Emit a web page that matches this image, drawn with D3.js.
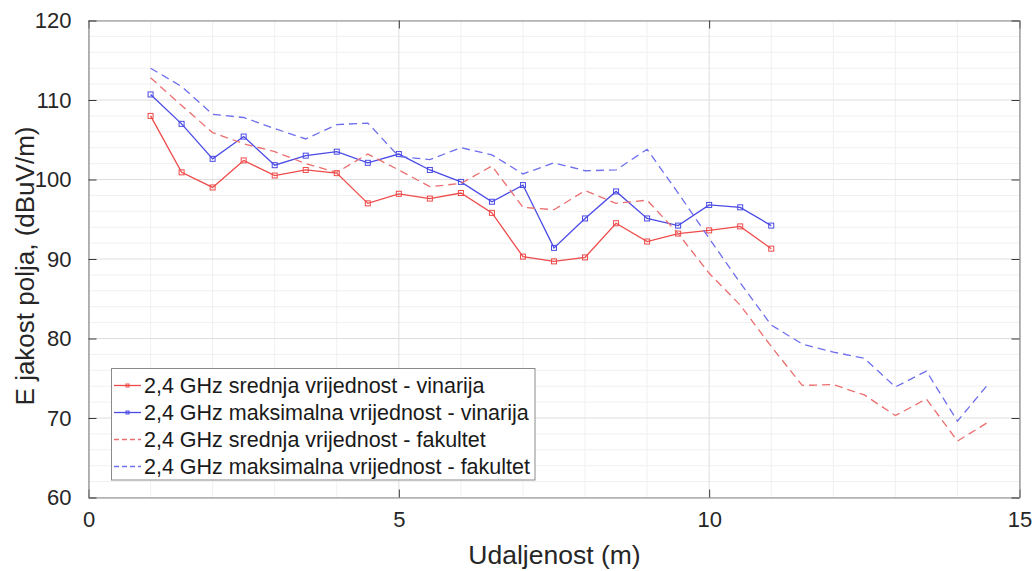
<!DOCTYPE html>
<html>
<head>
<meta charset="utf-8">
<script src="https://cdn.jsdelivr.net/npm/d3@7"></script>
<style>
  html, body { margin: 0; padding: 0; background: #ffffff; }
  svg { display: block; font-family: "Liberation Sans", Arial, sans-serif; }
</style>
</head>
<body>
<svg id="chart" width="1036" height="571"></svg>
<script>
// ---- data ----
const xVinarija = [1, 1.5, 2, 2.5, 3, 3.5, 4, 4.5, 5, 5.5, 6, 6.5, 7, 7.5, 8, 8.5, 9, 9.5, 10, 10.5, 11];
const srednjaVinarija = [108.0, 100.9, 99.0, 102.4, 100.5, 101.2, 100.8, 97.0, 98.2, 97.6, 98.3, 95.8, 90.3, 89.7, 90.2, 94.5, 92.2, 93.2, 93.6, 94.1, 91.3];
const maksVinarija = [110.7, 107.0, 102.6, 105.4, 101.8, 103.0, 103.5, 102.1, 103.2, 101.2, 99.7, 97.2, 99.3, 91.4, 95.1, 98.5, 95.1, 94.2, 96.8, 96.5, 94.2];
const xFakultet = [1, 1.5, 2, 2.5, 3, 3.5, 4, 4.5, 5, 5.5, 6, 6.5, 7, 7.5, 8, 8.5, 9, 9.5, 10, 10.5, 11, 11.5, 12, 12.5, 13, 13.5, 14, 14.5];
const srednjaFakultet = [112.8, 109.3, 105.9, 104.5, 103.5, 102.0, 100.9, 103.2, 101.2, 99.1, 99.5, 101.7, 96.5, 96.2, 98.6, 97.0, 97.4, 93.2, 88.2, 84.2, 79.0, 74.1, 74.2, 72.9, 70.3, 72.4, 67.1, 69.5];
const maksFakultet = [114.0, 111.7, 108.2, 107.8, 106.4, 105.1, 106.9, 107.1, 102.9, 102.5, 104.0, 103.1, 100.7, 102.1, 101.1, 101.2, 103.8, 98.3, 92.6, 87.0, 81.7, 79.3, 78.3, 77.5, 73.9, 75.9, 69.6, 74.3];
const xTicks = [0, 5, 10, 15];
const yTicks = [60, 70, 80, 90, 100, 110, 120];
const xMinorTicks = [1, 2, 3, 4, 6, 7, 8, 9, 11, 12, 13, 14];
const yMinorTicks = [62, 64, 66, 68, 72, 74, 76, 78, 82, 84, 86, 88, 92, 94, 96, 98, 102, 104, 106, 108, 112, 114, 116, 118];
const seriesNames = [
  "2,4 GHz srednja vrijednost - vinarija",
  "2,4 GHz maksimalna vrijednost - vinarija",
  "2,4 GHz srednja vrijednost - fakultet",
  "2,4 GHz maksimalna vrijednost - fakultet"
];
const xLabel = "Udaljenost (m)";
const yLabel = "E jakost polja, (dBuV/m)";

// ---- layout ----
const L = 88.5, R = 1019.5, T = 20.5, B = 497.5;
const RED = "#ef4a4a", BLUE = "#4a4ae6";
const RED_D = "#ec6f6f", BLUE_D = "#6f6fee";

const svg = d3.select("#chart");
const x = d3.scaleLinear().domain([0, 15]).range([L, R]);
const y = d3.scaleLinear().domain([60, 120]).range([B, T]);

// minor grid
const g = svg.append("g");
g.selectAll(".vmin").data(xMinorTicks).enter().append("line")
  .attr("x1", d => x(d)).attr("x2", d => x(d)).attr("y1", T).attr("y2", B)
  .attr("stroke", "#f0f0f0").attr("stroke-width", 1);
g.selectAll(".hmin").data(yMinorTicks).enter().append("line")
  .attr("y1", d => y(d)).attr("y2", d => y(d)).attr("x1", L).attr("x2", R)
  .attr("stroke", "#f0f0f0").attr("stroke-width", 1);
// major grid
g.selectAll(".vmaj").data(xTicks).enter().append("line")
  .attr("x1", d => x(d)).attr("x2", d => x(d)).attr("y1", T).attr("y2", B)
  .attr("stroke", "#dedede").attr("stroke-width", 1);
g.selectAll(".hmaj").data(yTicks).enter().append("line")
  .attr("y1", d => y(d)).attr("y2", d => y(d)).attr("x1", L).attr("x2", R)
  .attr("stroke", "#dedede").attr("stroke-width", 1);

// axes (ticks inward on all sides)
const tickLen = 8;
const axB = svg.append("g").attr("transform", `translate(0,${B})`)
  .call(d3.axisBottom(x).tickValues(xTicks).tickSizeInner(-tickLen).tickSizeOuter(0).tickPadding(14));
const axT = svg.append("g").attr("transform", `translate(0,${T})`)
  .call(d3.axisTop(x).tickValues(xTicks).tickSizeInner(-tickLen).tickSizeOuter(0).tickFormat(""));
const axL = svg.append("g").attr("transform", `translate(${L},0)`)
  .call(d3.axisLeft(y).tickValues(yTicks).tickSizeInner(-tickLen).tickSizeOuter(0).tickPadding(17));
const axR = svg.append("g").attr("transform", `translate(${R},0)`)
  .call(d3.axisRight(y).tickValues(yTicks).tickSizeInner(-tickLen).tickSizeOuter(0).tickFormat(""));
[axB, axT, axL, axR].forEach(a => {
  a.select(".domain").attr("stroke", "#8a8a8a").attr("stroke-width", 1.2);
  a.selectAll(".tick line").attr("stroke", "#3a3a3a").attr("stroke-width", 1);
  a.selectAll(".tick text").attr("fill", "#262626").attr("font-size", 22)
    .attr("font-family", "'Liberation Sans', Arial, sans-serif");
});
axB.selectAll(".tick text").attr("dy", "0.71em");

// axis labels
svg.append("text").attr("x", 554.5).attr("y", 563.5)
  .attr("text-anchor", "middle").attr("font-size", 26.5).attr("fill", "#262626").text(xLabel);
svg.append("text").attr("transform", `translate(34,266) rotate(-90)`)
  .attr("text-anchor", "middle").attr("font-size", 26).attr("fill", "#262626").text(yLabel);

// series
const series = [
  { xs: xVinarija, ys: srednjaVinarija, color: RED, dash: null, marker: true, w: 1.3 },
  { xs: xVinarija, ys: maksVinarija, color: BLUE, dash: null, marker: true, w: 1.3 },
  { xs: xFakultet, ys: srednjaFakultet, color: RED_D, dash: "8,5", marker: false, w: 1.3 },
  { xs: xFakultet, ys: maksFakultet, color: BLUE_D, dash: "8,5", marker: false, w: 1.3 }
];
const line = d3.line().x(d => x(d[0])).y(d => y(d[1]));
const plot = svg.append("g");
series.forEach(s => {
  const pts = s.xs.map((xv, i) => [xv, s.ys[i]]);
  plot.append("path").datum(pts).attr("d", line)
    .attr("fill", "none").attr("stroke", s.color).attr("stroke-width", s.w)
    .attr("stroke-dasharray", s.dash);
  if (s.marker) {
    plot.selectAll(null).data(pts).enter().append("rect")
      .attr("x", d => x(d[0]) - 2.5).attr("y", d => y(d[1]) - 2.5)
      .attr("width", 5).attr("height", 5)
      .attr("fill", "none").attr("stroke", s.color).attr("stroke-width", 1);
  }
});

// legend
const lg = svg.append("g");
lg.append("rect").attr("x", 111.5).attr("y", 368.5).attr("width", 423.5).attr("height", 111.5)
  .attr("fill", "#ffffff").attr("stroke", "#8a8a8a").attr("stroke-width", 1);
const rowY = [385.5, 412.5, 439.5, 466.5];
series.forEach((s, i) => {
  lg.append("line").attr("x1", 114).attr("x2", 141).attr("y1", rowY[i]).attr("y2", rowY[i])
    .attr("stroke", s.color).attr("stroke-width", s.w).attr("stroke-dasharray", s.dash ? "5,3" : null);
  if (s.marker) {
    lg.append("rect").attr("x", 126).attr("y", rowY[i] - 1.5).attr("width", 3).attr("height", 3)
      .attr("fill", "none").attr("stroke", s.color).attr("stroke-width", 1);
  }
  lg.append("text").attr("x", 144).attr("y", rowY[i]).attr("dy", "0.36em")
    .attr("font-size", 21.5).attr("fill", "#1a1a1a").text(seriesNames[i]);
});
</script>
</body>
</html>
